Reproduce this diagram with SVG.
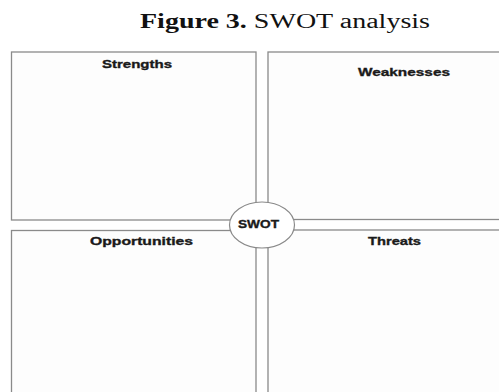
<svg xmlns="http://www.w3.org/2000/svg" width="499" height="392" viewBox="0 0 499 392">
<style>
.box{fill:#fdfdfd;stroke:#8a8a8a;stroke-width:1.3}
.lbl{font-family:"Liberation Sans",Arial,sans-serif;font-weight:bold;font-size:11.5px;fill:#1a1a1a;stroke:#1a1a1a;stroke-width:0.35}
.title{font-family:"Liberation Serif","Times New Roman",serif;font-size:20px;fill:#111}
</style>
<rect width="499" height="392" fill="#ffffff"/>
<text class="title" x="140" y="28" textLength="290" lengthAdjust="spacingAndGlyphs"><tspan font-weight="bold">Figure 3.</tspan> SWOT analysis</text>
<g id="strengths">
<rect class="box" x="11.5" y="52" width="244.5" height="168"/>
<text class="lbl" x="102" y="67.5" textLength="70" lengthAdjust="spacingAndGlyphs">Strengths</text>
</g>
<g id="weaknesses">
<rect class="box" x="268" y="52" width="240" height="167.5"/>
<text class="lbl" x="358" y="75.5" textLength="92" lengthAdjust="spacingAndGlyphs">Weaknesses</text>
</g>
<g id="opportunities">
<rect class="box" x="11.5" y="230.5" width="244.5" height="170"/>
<text class="lbl" x="90" y="244.5" textLength="103" lengthAdjust="spacingAndGlyphs">Opportunities</text>
</g>
<g id="threats">
<rect class="box" x="268" y="230" width="240" height="170"/>
<text class="lbl" x="368" y="245" textLength="53" lengthAdjust="spacingAndGlyphs">Threats</text>
</g>
<g id="connectors"></g>
<g id="swot">
<ellipse cx="262" cy="225" rx="32.5" ry="23" fill="#ffffff" stroke="#8a8a8a" stroke-width="1.2"/>
<text class="lbl" x="238" y="227.5" font-size="10" textLength="41" lengthAdjust="spacingAndGlyphs">SWOT</text>
</g>
</svg>
